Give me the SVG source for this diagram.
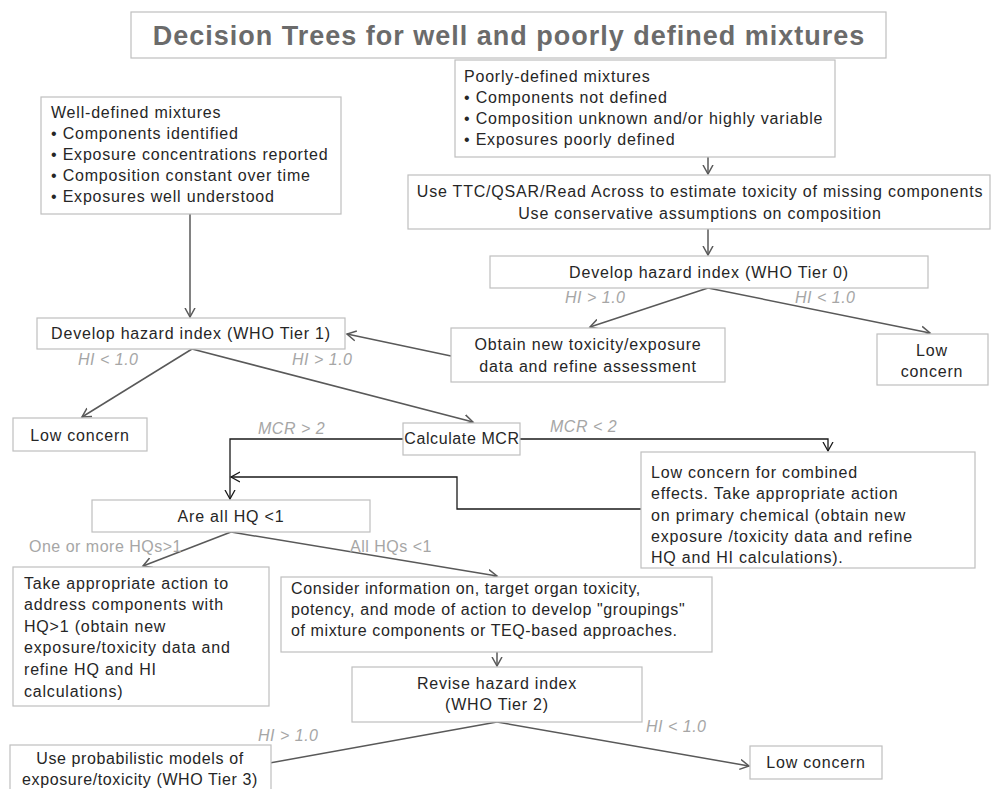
<svg xmlns="http://www.w3.org/2000/svg" width="995" height="789" viewBox="0 0 995 789">
  <defs>
    <style>
      .box { fill: #ffffff; stroke: #bfbfbf; stroke-width: 1.2; }
      .t { font-family: "Liberation Sans", Arial, sans-serif; font-size: 16px; letter-spacing: 0.8px; fill: #262626; }
      .tight { letter-spacing: 0.6px; }
      .c { text-anchor: middle; }
      .lbl { font-family: "Liberation Sans", Arial, sans-serif; font-size: 16px; letter-spacing: 0.5px; fill: #a6a6a6; }
      .it { font-style: italic; }
      .title { font-family: "Liberation Sans", Arial, sans-serif; font-size: 27px; font-weight: bold; letter-spacing: 1px; fill: #6b6b6b; text-anchor: middle; }
      .edge { fill: none; stroke: #595959; stroke-width: 1.5; marker-end: url(#chev); }
      .ortho { fill: none; stroke: #1a1a1a; stroke-width: 1.3; marker-end: url(#chevK); }
    </style>
    <marker id="chev" markerUnits="userSpaceOnUse" markerWidth="12" markerHeight="12" refX="9" refY="5" orient="auto" viewBox="0 0 12 10">
      <path d="M0,0 L9,5 L0,10" fill="none" stroke="#595959" stroke-width="1.5"/>
    </marker>
    <marker id="chevK" markerUnits="userSpaceOnUse" markerWidth="12" markerHeight="12" refX="9" refY="5" orient="auto" viewBox="0 0 12 10">
      <path d="M0,0 L9,5 L0,10" fill="none" stroke="#1a1a1a" stroke-width="1.3"/>
    </marker>
  </defs>

  <rect width="995" height="789" fill="#ffffff"/>

  <!-- heading -->
  <g id="title">
    <rect class="box" x="131" y="12" width="755" height="46"/>
    <text class="title" x="509" y="45">Decision Trees for well and poorly defined mixtures</text>
  </g>

  <!-- connectors -->
  <g id="connectors">
    <path class="edge" d="M190,214 L190,317"/>
    <path class="edge" d="M708,157 L708,174"/>
    <path class="edge" d="M708,229 L708,255"/>
    <path class="edge" d="M708,288 L590,327"/>
    <path class="edge" d="M708,288 L930,333"/>
    <path class="edge" d="M451,356 L347,334"/>
    <path class="edge" d="M192,349 L82,417"/>
    <path class="edge" d="M192,349 L473,422"/>
    <path class="ortho" d="M403,439 H230 V499"/>
    <path class="ortho" d="M520,439 H828 V451"/>
    <path class="ortho" d="M641,509 H457 V477 H231"/>
    <path class="edge" d="M231,532 L143,566"/>
    <path class="edge" d="M231,532 L497,576"/>
    <path class="edge" d="M497,652 L497,666"/>
    <path class="edge" d="M497,722 L253,766"/>
    <path class="edge" d="M497,722 L749,766"/>
  </g>

  <!-- branch labels -->
  <g id="labels">
    <text class="lbl it" x="565" y="303">HI &gt; 1.0</text>
    <text class="lbl it" x="795" y="303">HI &lt; 1.0</text>
    <text class="lbl it" x="78" y="365">HI &lt; 1.0</text>
    <text class="lbl it" x="292" y="365">HI &gt; 1.0</text>
    <text class="lbl it" x="258" y="434">MCR &gt; 2</text>
    <text class="lbl it" x="550" y="432">MCR &lt; 2</text>
    <text class="lbl" x="29" y="552">One or more HQs&gt;1</text>
    <text class="lbl" x="350" y="552">All HQs &lt;1</text>
    <text class="lbl it" x="258" y="741">HI &gt; 1.0</text>
    <text class="lbl it" x="646" y="732">HI &lt; 1.0</text>
  </g>

  <g id="well-defined">
    <rect class="box" x="41" y="97" width="300" height="117"/>
    <text class="t" x="51" y="118">Well-defined mixtures</text>
    <text class="t" x="51" y="139">• Components identified</text>
    <text class="t" x="51" y="160">• Exposure concentrations reported</text>
    <text class="t" x="51" y="181">• Composition constant over time</text>
    <text class="t" x="51" y="202">• Exposures well understood</text>
  </g>

  <g id="poorly-defined">
    <rect class="box" x="455" y="60" width="380" height="97"/>
    <text class="t" x="464" y="82">Poorly-defined mixtures</text>
    <text class="t" x="464" y="103">• Components not defined</text>
    <text class="t" x="464" y="124">• Composition unknown and/or highly variable</text>
    <text class="t" x="464" y="145">• Exposures poorly defined</text>
  </g>

  <g id="ttc-qsar">
    <rect class="box" x="408" y="175" width="582" height="54"/>
    <text class="t c" x="700" y="197">Use TTC/QSAR/Read Across to estimate toxicity of missing components</text>
    <text class="t c" x="700" y="219">Use conservative assumptions on composition</text>
  </g>

  <g id="tier0">
    <rect class="box" x="490" y="256" width="438" height="32"/>
    <text class="t c" x="709" y="278">Develop hazard index (WHO Tier 0)</text>
  </g>

  <g id="obtain-data">
    <rect class="box" x="451" y="328" width="274" height="54"/>
    <text class="t c" x="588" y="350">Obtain new toxicity/exposure</text>
    <text class="t c" x="588" y="372">data and refine assessment</text>
  </g>

  <g id="low-concern-tier0">
    <rect class="box" x="877" y="334" width="111" height="51"/>
    <text class="t c" x="932" y="356">Low</text>
    <text class="t c" x="932" y="377">concern</text>
  </g>

  <g id="tier1">
    <rect class="box" x="37" y="318" width="308" height="31"/>
    <text class="t c" x="191" y="339">Develop hazard index (WHO Tier 1)</text>
  </g>

  <g id="low-concern-tier1">
    <rect class="box" x="13" y="418" width="134" height="33"/>
    <text class="t c" x="80" y="441">Low concern</text>
  </g>

  <g id="calculate-mcr">
    <rect class="box" x="403" y="423" width="117" height="32"/>
    <text class="t c tight" x="462" y="444">Calculate MCR</text>
  </g>

  <g id="combined-effects">
    <rect class="box" x="641" y="452" width="334" height="116"/>
    <text class="t" x="651" y="478">Low concern for combined</text>
    <text class="t" x="651" y="499">effects. Take appropriate action</text>
    <text class="t" x="651" y="521">on primary chemical (obtain new</text>
    <text class="t" x="651" y="542">exposure /toxicity data and refine</text>
    <text class="t" x="651" y="563">HQ and HI calculations).</text>
  </g>

  <g id="all-hq">
    <rect class="box" x="92" y="500" width="278" height="32"/>
    <text class="t c" x="231" y="522">Are all HQ &lt;1</text>
  </g>

  <g id="address-components">
    <rect class="box" x="13" y="567" width="256" height="139"/>
    <text class="t" x="24" y="589">Take appropriate action to</text>
    <text class="t" x="24" y="610">address components with</text>
    <text class="t" x="24" y="632">HQ&gt;1 (obtain new</text>
    <text class="t" x="24" y="653">exposure/toxicity data and</text>
    <text class="t" x="24" y="675">refine HQ and HI</text>
    <text class="t" x="24" y="697">calculations)</text>
  </g>

  <g id="groupings">
    <rect class="box" x="281" y="577" width="431" height="75"/>
    <text class="t tight" x="291" y="594">Consider information on, target organ toxicity,</text>
    <text class="t tight" x="291" y="615">potency, and mode of action to develop "groupings"</text>
    <text class="t tight" x="291" y="636">of mixture components or TEQ-based approaches.</text>
  </g>

  <g id="tier2">
    <rect class="box" x="352" y="667" width="290" height="55"/>
    <text class="t c" x="497" y="689">Revise hazard index</text>
    <text class="t c" x="497" y="710">(WHO Tier 2)</text>
  </g>

  <g id="tier3">
    <rect class="box" x="10" y="745" width="261" height="50"/>
    <text class="t c tight" x="140" y="764">Use probabilistic models of</text>
    <text class="t c tight" x="140" y="785">exposure/toxicity (WHO Tier 3)</text>
  </g>

  <g id="low-concern-tier2">
    <rect class="box" x="750" y="746" width="132" height="33"/>
    <text class="t c" x="816" y="768">Low concern</text>
  </g>
</svg>
